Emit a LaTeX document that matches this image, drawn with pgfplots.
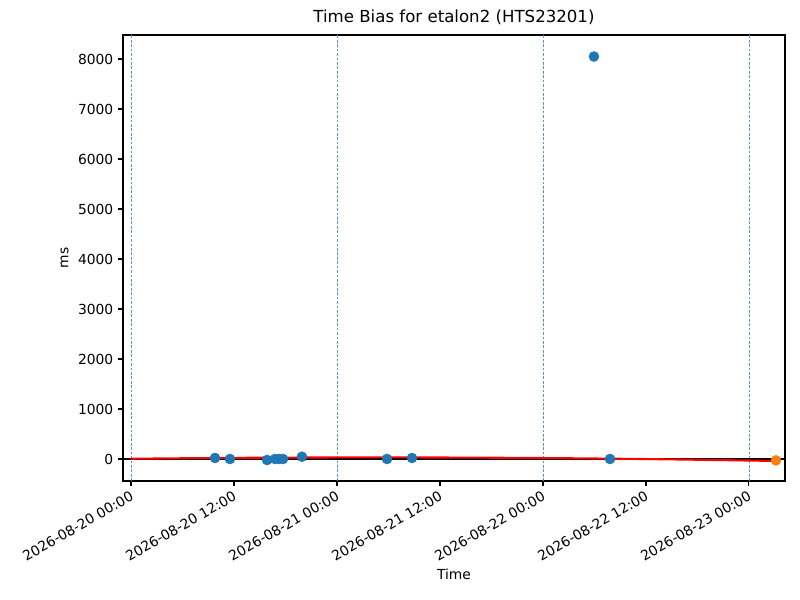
\documentclass[border=0pt]{standalone}
\usepackage{pgfplots}
\pgfplotsset{compat=1.18}
\usepackage{fontspec}
\setmainfont{DejaVu Sans}
\definecolor{mplblue}{HTML}{1F77B4}
\definecolor{mplorange}{HTML}{FF7F0E}
\definecolor{gridc}{RGB}{95,145,195}
\begin{document}
\begin{tikzpicture}
\path[use as bounding box] (0,0) rectangle (578.16pt,433.62pt);
\begin{axis}[
  at={(88.9pt,86.0pt)}, anchor=south west,
  scale only axis,
  width=478.4pt, height=322.3pt,
  xmin=-0.93, xmax=76.2,
  ymin=-440, ymax=8480,
  xtick={0,12,24,36,48,60,72},
  xticklabels={2026-08-20 00:00,2026-08-20 12:00,2026-08-21 00:00,2026-08-21 12:00,2026-08-22 00:00,2026-08-22 12:00,2026-08-23 00:00},
  xticklabel style={rotate=30, anchor=north east, font=\fontsize{10}{12}\selectfont, inner sep=1pt, xshift=-1.5pt, yshift=-1pt},
  ytick={0,1000,2000,3000,4000,5000,6000,7000,8000},
  yticklabel style={font=\fontsize{10}{12}\selectfont},
  /pgf/number format/assume math mode=true,
  /pgf/number format/1000 sep={},
  scaled y ticks=false,
  tick align=outside,
  tick pos=left,
  major tick length=3.5pt,
  tick style={black, line width=0.8pt},
  axis line style={line width=0.8pt},
  title={Time Bias for etalon2 (HTS23201)},
  title style={font=\fontsize{12}{14}\selectfont, yshift=-2pt},
  xlabel={Time},
  ylabel={ms},
  label style={font=\fontsize{10}{12}\selectfont},
  clip=true,
]
% vertical day grid lines
\addplot[gridc, line width=0.6pt, dash pattern=on 2pt off 1.2pt] coordinates {(0,-440) (0,8480)};
\addplot[gridc, line width=0.6pt, dash pattern=on 2pt off 1.2pt] coordinates {(24,-440) (24,8480)};
\addplot[gridc, line width=0.6pt, dash pattern=on 2pt off 1.2pt] coordinates {(48,-440) (48,8480)};
\addplot[gridc, line width=0.6pt, dash pattern=on 2pt off 1.2pt] coordinates {(72,-440) (72,8480)};
% zero line
\addplot[black, line width=1pt] coordinates {(-0.93,0) (76.2,0)};
% fitted curve
\addplot[red, line width=1.5pt, smooth] coordinates {
(0,5) (10,20.6) (20,29.5) (30,31.8) (40,27.4) (50,16.5) (60,-1.2) (70,-25.4) (75.15,-40)};
% measurements
\addplot[only marks, mark=*, mark size=3.6pt, mplblue, mark options={draw=mplblue, fill=mplblue}] coordinates {
(9.79,20) (11.53,0) (15.85,-20) (16.78,0) (17.24,0) (17.71,0) (19.92,46)
(29.83,0) (32.74,20) (53.94,8050) (55.81,0)};
\addplot[only marks, mark=*, mark size=3.6pt, mplorange, mark options={draw=mplorange, fill=mplorange}] coordinates {(75.15,-28)};
\end{axis}
\end{tikzpicture}
\end{document}
